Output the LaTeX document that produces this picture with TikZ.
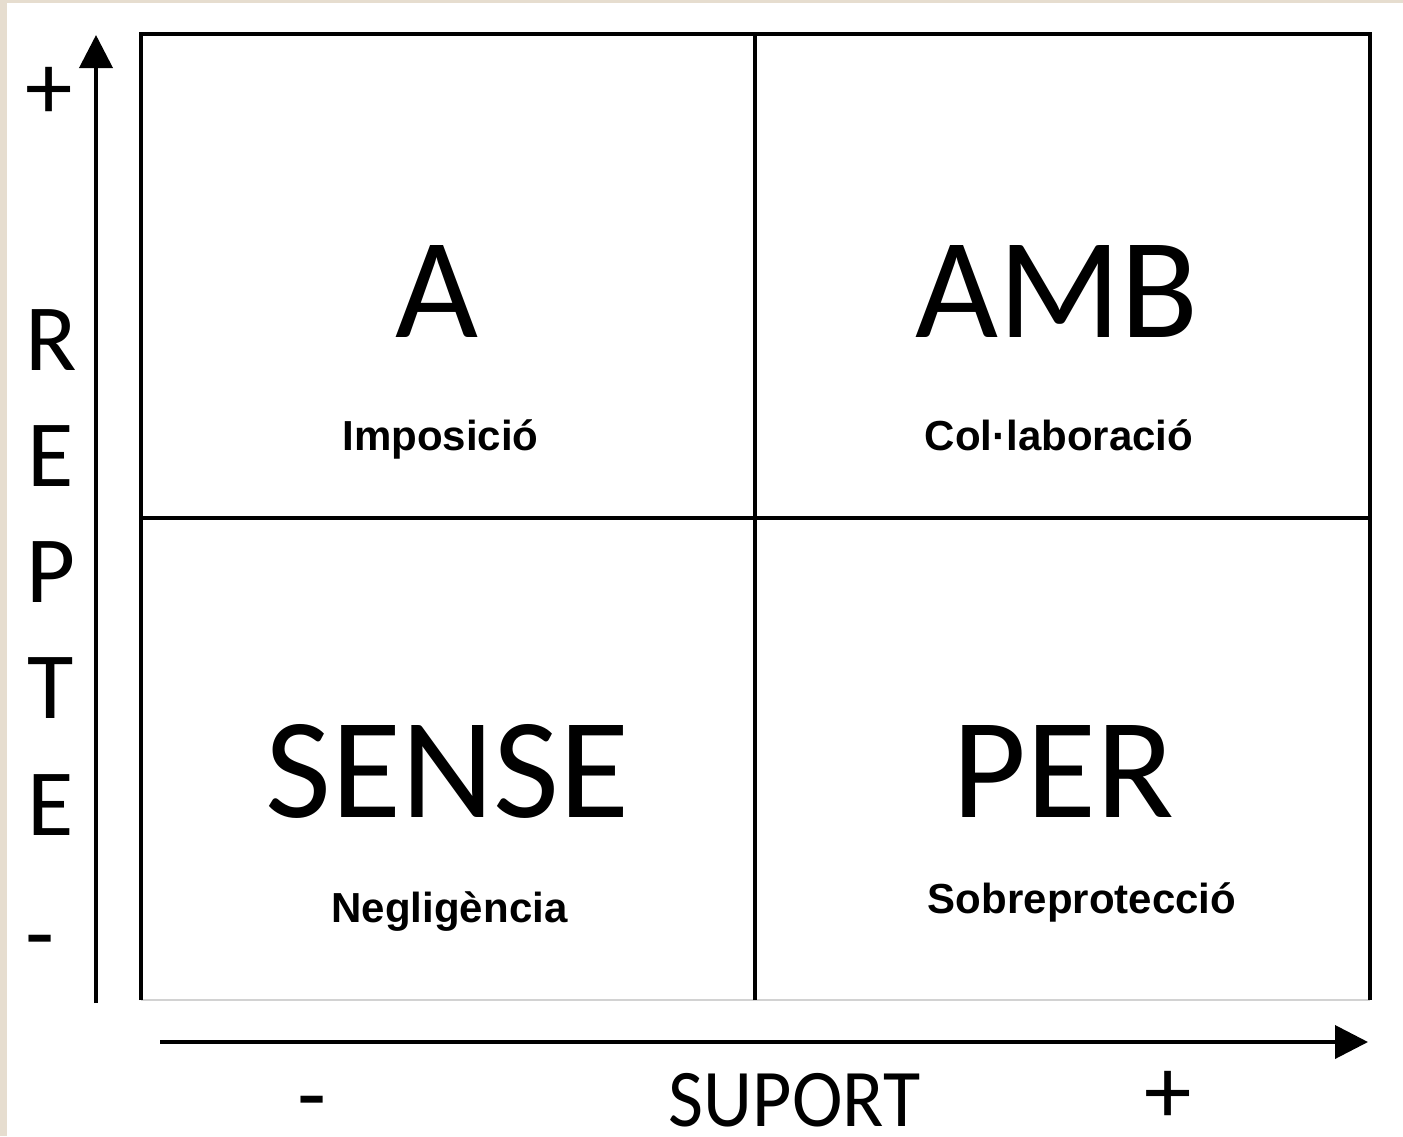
\documentclass[tikz,border=0pt]{standalone}
\usepackage{fontspec}
\setmainfont{Carlito}
\newfontfamily\labelfont{Liberation Sans}
\usetikzlibrary{arrows.meta}
\definecolor{paper}{HTML}{E6DDCF}
\definecolor{edgegray}{HTML}{D2D2D2}

\begin{document}
\begin{tikzpicture}[line join=miter,line cap=butt,
  >={Triangle[width=3.3mm,length=3.3mm]},
  big/.style={font=\fontsize{40.8}{46}\selectfont,inner sep=0,anchor=base},
  axisletter/.style={font=\fontsize{27}{30}\selectfont,inner sep=0,anchor=base},
  sign/.style={font=\fontsize{27}{30}\selectfont,inner sep=0},
  lbl/.style={font=\labelfont\bfseries\fontsize{11.95}{14}\selectfont,inner sep=0,anchor=base}]
	% paper and bounding box
	\fill[paper] (0,0) rectangle (14.03,11.36);
	\fill[white] (0.07,0) rectangle (14.03,11.33);
	\useasboundingbox (0,0) rectangle (14.03,11.36);
	% quadrant grid
	\coordinate (sw) at (1.41,1.36);
	\coordinate (ne) at (13.70,11.02);
	\coordinate (mid) at (7.55,6.18);
	\draw[edgegray,line width=.6pt] (sw)--(sw-|ne);
	\draw[line width=.9pt] (sw)--(sw|-ne)--(ne)--(ne|-sw);
	\draw[line width=.9pt] (mid|-sw)--(mid|-ne) (mid-|sw)--(mid-|ne);
	% axes
	\coordinate (yfoot) at (0.96,1.33);
	\coordinate (ytip) at (0.96,11.01);
	\coordinate (xfoot) at (1.60,0.94);
	\coordinate (xtip) at (13.68,0.94);
	\draw[->,line width=1.1pt] (yfoot)--(ytip);
	\draw[->,line width=1.1pt] (xfoot)--(xtip);
	% quadrant texts
	\node[big] (qa) at (4.37,7.99) {A};
	\node[big] (qamb) at (10.57,7.99) {AMB};
	\node[big] (qsense) at (4.475,3.19) {SENSE};
	\node[big] (qper) at (10.63,3.19) {PER};
	\node[lbl] (limp) at (4.405,6.86) {Imposició};
	\node[lbl] (lcol) at (10.59,6.86) {Col·laboració};
	\node[lbl] (lneg) at (4.495,2.14) {Negligència};
	\node[lbl] (lsob) at (10.82,2.23) {Sobreprotecció};
	% vertical axis label
	\foreach \ch [count=\i from 0] in {R,E,P,T,E}
		\node[axisletter] (rep\i) at (0.51,7.66-1.163*\i) {\ch};
	\node[sign] (yplus) at (0.49,10.43) {+};
	\node[sign] (yminus) at (0.40,1.86) {-};
	% horizontal axis label
	\node[axisletter,font=\fontsize{23.3}{26}\selectfont,xscale=.93] (suport) at (7.945,0.10) {SUPORT};
	\node[sign] (xminus) at (3.12,0.25) {-};
	\node[sign] (xplus) at (11.68,0.39) {+};
\end{tikzpicture}
\end{document}
